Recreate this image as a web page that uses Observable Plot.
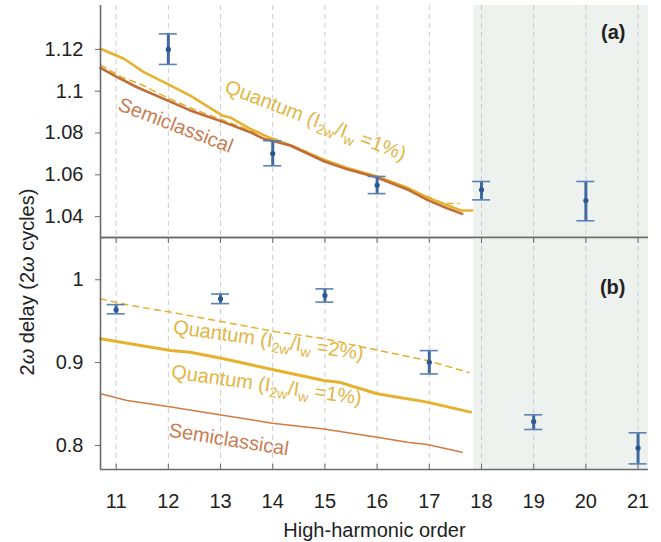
<!DOCTYPE html>
<html><head><meta charset="utf-8">
<script src="https://cdn.jsdelivr.net/npm/d3@7"></script>
<script src="https://cdn.jsdelivr.net/npm/@observablehq/plot@0.6"></script>
<style>
body{margin:0;background:#fff;}
#wrap{position:relative;width:661px;height:542px;font-family:"Liberation Sans",Arial,sans-serif;overflow:hidden;}
#wrap svg{position:absolute;left:0;}
#ylabel{position:absolute;left:-123px;top:270px;width:300px;height:24px;line-height:24px;text-align:center;font-size:20px;color:#222;transform:rotate(-90deg);transform-origin:150px 12px;white-space:nowrap;}
</style></head><body><div id="wrap"><div id="ylabel">2<i>ω</i> delay (2<i>ω</i> cycles)</div></div>
<script>
// ---------- data ----------
const harmonicTicks = [11, 12, 13, 14, 15, 16, 17, 18, 19, 20, 21];
const xDomain = [10.7, 21.2];
const shadeStart = 17.85;
const topDomain = [1.03, 1.141];
const topTicks = [1.04, 1.06, 1.08, 1.1, 1.12];
const botDomain = [0.771, 1.051];
const botTicks = [0.8, 0.9, 1];

// measured points (a)
const aOrders = [12, 14, 16, 18, 20];
const aDelay  = [1.1200, 1.0702, 1.0550, 1.0528, 1.0477];
const aLow    = [1.1128, 1.0643, 1.0510, 1.0480, 1.0380];
const aHigh   = [1.1274, 1.0763, 1.0592, 1.0568, 1.0568];
// measured points (b)
const bOrders = [11, 13, 15, 17, 19, 21];
const bDelay  = [0.9638, 0.9770, 0.9810, 0.9004, 0.8289, 0.7968];
const bLow    = [0.9589, 0.9712, 0.9730, 0.8863, 0.8193, 0.7778];
const bHigh   = [0.9700, 0.9828, 0.9890, 0.9145, 0.8370, 0.8153];

// simulated curves (a)
const aQ1x = [10.70, 11.15, 11.53, 11.98, 12.42, 13.03, 13.19, 13.57, 13.99, 14.34, 14.98, 15.43, 16.00, 16.58, 16.96, 17.34, 17.60, 17.82];
const aQ1y = [1.1203, 1.1155, 1.1091, 1.1035, 1.0979, 1.0884, 1.0873, 1.0820, 1.0772, 1.0740, 1.0672, 1.0633, 1.0592, 1.0538, 1.0492, 1.0455, 1.0430, 1.0429];
const aQ2x = [10.70, 11.10, 11.50, 12.00, 12.50, 13.00, 13.50, 14.00, 14.50, 15.00, 15.50, 16.00, 16.50, 17.00, 17.28, 17.57];
const aQ2y = [1.1125, 1.1068, 1.1030, 1.0966, 1.0912, 1.0866, 1.0818, 1.0775, 1.0728, 1.0670, 1.0626, 1.0592, 1.0540, 1.0492, 1.0463, 1.0463];
const aSemiX = [10.70, 11.02, 11.40, 11.98, 12.42, 13.06, 13.57, 13.83, 14.34, 14.98, 15.43, 16.00, 16.58, 16.96, 17.34, 17.63];
const aSemiY = [1.1112, 1.1067, 1.1019, 1.0956, 1.0908, 1.0852, 1.0804, 1.0772, 1.0740, 1.0665, 1.0626, 1.0587, 1.0530, 1.0480, 1.0440, 1.0413];
// simulated curves (b)
const bQ2x = [10.70, 11.27, 12.04, 13.06, 14.08, 14.98, 16.00, 16.96, 17.76];
const bQ2y = [0.9770, 0.9690, 0.9610, 0.9490, 0.9370, 0.9290, 0.9150, 0.9026, 0.8880];
const bQ1x = [10.70, 11.27, 12.04, 12.42, 13.06, 14.08, 14.98, 15.27, 16.00, 16.96, 17.79];
const bQ1y = [0.9288, 0.9227, 0.9146, 0.9126, 0.9046, 0.8905, 0.8784, 0.8764, 0.8624, 0.8523, 0.8402];
const bSemiX = [10.70, 11.21, 11.99, 12.98, 13.99, 14.98, 16.00, 16.58, 16.96, 17.63];
const bSemiY = [0.8624, 0.8543, 0.8470, 0.8370, 0.8269, 0.8200, 0.8100, 0.8040, 0.8012, 0.7919];

// curve labels
const labelsA = [
  {x: 14.82, y: 1.0860, text: "Quantum (I{2w}/I{w} =1%)", kind: "q", rot: 21},
  {x: 12.14, y: 1.0836, text: "Semiclassical", kind: "s", rot: 21}
];
const labelsB = [
  {x: 13.92, y: 0.9270, text: "Quantum (I{2w}/I{w} =2%)", kind: "q", rot: 8},
  {x: 13.88, y: 0.8730, text: "Quantum (I{2w}/I{w} =1%)", kind: "q", rot: 8},
  {x: 13.16, y: 0.8070, text: "Semiclassical", kind: "s", rot: 9}
];

(function () {
// ---------- styles ----------
const cQuant = "#e6b22e", cSemiA = "#c06d38", cSemiB = "#cf7b44";
const cQuantText = "#e2b645", cSemiText = "#c87d52";
const cBlue = "#41699f", cDot = "#2b5792";
const cAxis = "#6a6a6a", cGrid = "#cbcbcb", cShade = "#eef2ef";
const font = "'Liberation Sans', Arial, sans-serif";

const zip = (xs, ys) => xs.map((x, i) => ({x, y: ys[i]}));
const bars = (o, d, l, h) => o.map((x, i) => ({x, y: d[i], lo: l[i], hi: h[i]}));

function errorMarks(data) {
  return [
    Plot.ruleX(data, {x: "x", y1: "lo", y2: "hi", stroke: cBlue, strokeWidth: 3}),
    Plot.ruleY(data, {x1: "x", x2: "x", y: "lo", insetLeft: -9, insetRight: -9, stroke: "#5a82b6", strokeWidth: 1.6}),
    Plot.ruleY(data, {x1: "x", x2: "x", y: "hi", insetLeft: -9, insetRight: -9, stroke: "#5a82b6", strokeWidth: 1.6}),
    Plot.dot(data, {x: "x", y: "y", r: 2.6, fill: cDot, stroke: "none"})
  ];
}
function labelMarks(data) {
  return [
    Plot.text(data.filter(d => d.kind === "q"), {x: "x", y: "y", text: "text", rotate: data.find(d => d.kind === "q").rot, fill: cQuantText, fontSize: 20, textAnchor: "middle", lineAnchor: "middle"}),
    Plot.text(data.filter(d => d.kind === "s"), {x: "x", y: "y", text: "text", rotate: data.find(d => d.kind === "s").rot, fill: cSemiText, fontSize: 20, textAnchor: "middle", lineAnchor: "middle"})
  ];
}
function applySubs(svg) {
  svg.querySelectorAll("text").forEach(t => {
    const s = t.textContent;
    if (!s.includes("{")) return;
    while (t.firstChild) t.removeChild(t.firstChild);
    let shifted = false;
    s.split(/(\{[^}]*\})/).forEach(p => {
      if (!p) return;
      const ts = document.createElementNS("http://www.w3.org/2000/svg", "tspan");
      if (p.startsWith("{")) {
        ts.textContent = p.slice(1, -1);
        ts.setAttribute("font-size", "14");
        if (!shifted) ts.setAttribute("dy", "5");
        shifted = true;
      } else {
        ts.textContent = p;
        if (shifted) ts.setAttribute("dy", "-5");
        shifted = false;
      }
      t.appendChild(ts);
    });
  });
}

const wrap = document.getElementById("wrap");

// ---------- panel (a) ----------
const plotA = Plot.plot({
  width: 661, height: 237,
  marginLeft: 100, marginRight: 13, marginTop: 5, marginBottom: 0,
  x: {domain: xDomain, axis: null},
  y: {domain: topDomain},
  style: {fontFamily: font, color: "#222", background: "transparent", overflow: "visible"},
  marks: [
    Plot.rect([0], {x1: shadeStart, x2: xDomain[1], fill: cShade}),
    Plot.ruleX(harmonicTicks, {stroke: cGrid, strokeDasharray: "5,4", strokeWidth: 1}),
    Plot.line(zip(aQ2x, aQ2y), {x: "x", y: "y", stroke: cQuant, strokeWidth: 1.6, strokeDasharray: "6,5"}),
    Plot.line(zip(aQ1x, aQ1y), {x: "x", y: "y", stroke: cQuant, strokeWidth: 2.6}),
    Plot.line(zip(aSemiX, aSemiY), {x: "x", y: "y", stroke: cSemiA, strokeWidth: 2.6}),
    ...errorMarks(bars(aOrders, aDelay, aLow, aHigh)),
    Plot.ruleX([xDomain[0]], {stroke: cAxis, strokeWidth: 1.6}),
    Plot.ruleY([topDomain[0]], {stroke: cAxis, strokeWidth: 1.6}),
    Plot.axisY({ticks: topTicks, tickSize: 5, tickPadding: 12, fontSize: 20, tickFormat: d => String(d), stroke: cAxis, fill: "#222", label: null}),
    ...labelMarks(labelsA),
    Plot.text(["(a)"], {frameAnchor: "top-right", dx: -23, dy: 27, textAnchor: "end", lineAnchor: "middle", fontSize: 20, fontWeight: "bold", fill: "#222"})
  ]
});
plotA.style.top = "0px";
applySubs(plotA);
wrap.appendChild(plotA);

// ---------- panel (b) ----------
const plotB = Plot.plot({
  width: 661, height: 305,
  marginLeft: 100, marginRight: 13, marginTop: 0, marginBottom: 73,
  x: {domain: xDomain},
  y: {domain: botDomain},
  style: {fontFamily: font, color: "#222", background: "transparent", overflow: "visible"},
  marks: [
    Plot.rect([0], {x1: shadeStart, x2: xDomain[1], fill: cShade}),
    Plot.ruleX(harmonicTicks, {stroke: cGrid, strokeDasharray: "5,4", strokeWidth: 1}),
    Plot.line(zip(bQ2x, bQ2y), {x: "x", y: "y", stroke: cQuant, strokeWidth: 1.5, strokeDasharray: "6,5"}),
    Plot.line(zip(bQ1x, bQ1y), {x: "x", y: "y", stroke: cQuant, strokeWidth: 3}),
    Plot.line(zip(bSemiX, bSemiY), {x: "x", y: "y", stroke: cSemiB, strokeWidth: 1.5}),
    ...errorMarks(bars(bOrders, bDelay, bLow, bHigh)),
    Plot.ruleX([xDomain[0]], {stroke: cAxis, strokeWidth: 1.6}),
    Plot.ruleY([botDomain[1]], {stroke: cAxis, strokeWidth: 1.6}),
    Plot.ruleY([botDomain[0]], {stroke: cAxis, strokeWidth: 1.6}),
    Plot.axisY({ticks: botTicks, tickSize: 5, tickPadding: 12, fontSize: 20, tickFormat: d => String(d), stroke: cAxis, fill: "#222", label: null}),
    Plot.axisX({anchor: "top", ticks: harmonicTicks, tickSize: -5, tickFormat: () => "", stroke: cAxis, label: null}),
    Plot.axisX({anchor: "bottom", ticks: harmonicTicks, tickSize: -5, tickPadding: 29, fontSize: 20, tickFormat: d => String(d), stroke: cAxis, fill: "#222", label: null}),
    Plot.text(["High-harmonic order"], {frameAnchor: "bottom", dy: 61, lineAnchor: "middle", fontSize: 20, fill: "#222"}),
    ...labelMarks(labelsB),
    Plot.text(["(b)"], {frameAnchor: "top-right", dx: -23, dy: 50, textAnchor: "end", lineAnchor: "middle", fontSize: 20, fontWeight: "bold", fill: "#222"})
  ]
});
plotB.style.top = "237px";
applySubs(plotB);
wrap.appendChild(plotB);
})();
</script>
</body></html>
